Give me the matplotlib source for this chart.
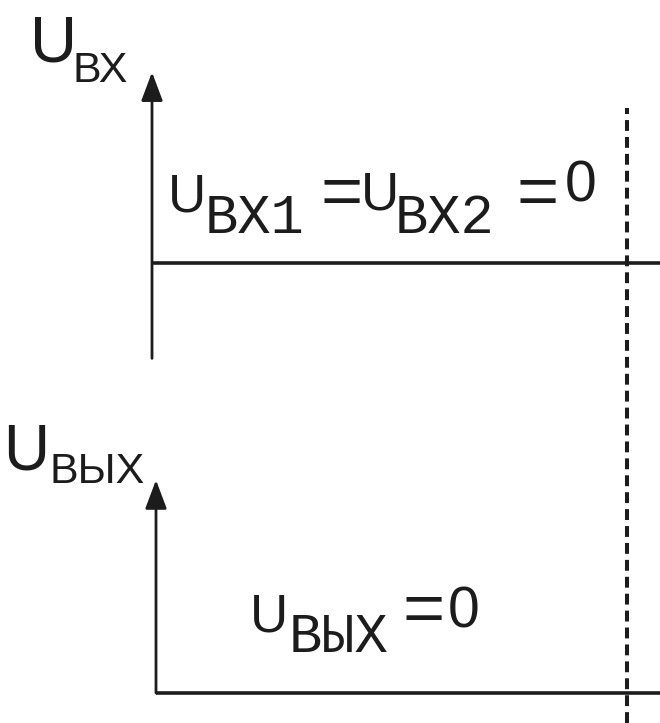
import matplotlib
matplotlib.use("Agg")
import matplotlib.pyplot as plt

# time axis and switching moment
t_range = [0, 10]
t_switch = 9.35

# signal levels
u_in = [0, 0]      # U_вх1 = U_вх2 = 0
u_out = [0, 0]     # U_вых = 0

ink = '#1c1c1c'
W, H = 660, 723
mono = ['Liberation Mono', 'DejaVu Sans Mono']


def px(x, y):
    # pixel position -> figure fraction
    return x / W, 1 - y / H


def put(s, x, y, size, family='Liberation Sans', weight='normal', va='baseline'):
    fx, fy = px(x, y)
    fig.text(fx, fy, s, fontsize=size, family=family, weight=weight,
             color=ink, ha='left', va=va)


fig = plt.figure(figsize=(6.6, 7.23), dpi=100)

arrow = dict(arrowstyle='-|>,head_length=0.8,head_width=0.3',
             color=ink, lw=2.0, mutation_scale=22, shrinkA=0, shrinkB=0)

# top panel: input voltage
l, b = px(152, 400)
r, t = px(660, 60)
ax1 = fig.add_axes([l, b, r - l, t - b])
ax1.set_xlim(t_range)
ax1.set_ylim(-1.35, 2.0)
ax1.plot(t_range, u_in, color=ink, lw=2.6, solid_capstyle='butt')
ax1.annotate('', xy=(0, 1.88), xytext=(0, -0.94), arrowprops=arrow)
ax1.axis('off')

# bottom panel: output voltage
l, b = px(156, 723)
r, t = px(660, 400)
ax2 = fig.add_axes([l, b, r - l, t - b])
ax2.set_xlim(t_range)
ax2.set_ylim(-0.3, 2.93)
ax2.plot(t_range, u_out, color=ink, lw=2.6, solid_capstyle='butt')
ax2.annotate('', xy=(0, 2.13), xytext=(0, 0), arrowprops=arrow)
# switching moment, drawn once through both panels
ax2.axvline(t_switch, ymin=0, ymax=(723 - 108) / 323, color=ink, lw=2.9,
            linestyle=(0, (2.7, 1.5)), clip_on=False, zorder=3)
ax2.axis('off')

# axis labels
put('U', 30, 62, 47)
put('ВХ', 72, 82, 31)
put('U', 3, 469, 46)
put('ВЫХ', 49, 483, 31)

# top annotation
put('U', 168, 211, 38)
put('ВХ1', 205, 233, 40, family=mono)
put('=', 321, 197, 52, va='center')
put('U', 361, 209, 38)
put('ВХ2', 395, 233, 40, family=mono)
put('=', 517, 197, 52, va='center')
put('0', 565, 201, 41)

# bottom annotation
put('U', 250, 631, 38)
put('ВЫХ', 289, 652, 40, family=mono)
put('=', 403, 613, 52, va='center')
put('0', 448, 627, 41)

fig.savefig('out.png', dpi=100, facecolor='white')
